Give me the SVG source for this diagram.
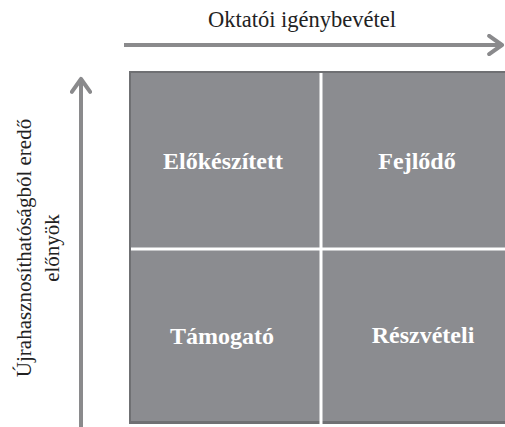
<svg xmlns="http://www.w3.org/2000/svg" width="505" height="427" viewBox="0 0 505 427">
<style>
.axis{font-family:"Liberation Serif","Times New Roman",serif;fill:#222;}
.q{font-family:"Liberation Serif","Times New Roman",serif;font-size:24px;font-weight:bold;fill:#fff;text-anchor:middle;}
.cell{fill:#8b8c90;}
.div{stroke:#fff;stroke-width:3;}
.arr{stroke:#8a8a8c;stroke-width:4;fill:none;}
</style>
<defs>
<marker id="ah" viewBox="0 0 12 12" refX="9" refY="6" markerWidth="5.5" markerHeight="5.5" orient="auto" markerUnits="strokeWidth">
<path d="M2,1 L9,6 L2,11" fill="none" stroke="#8a8a8c" stroke-width="2.2" stroke-linecap="round" stroke-linejoin="round"/>
</marker>
</defs>
<rect width="505" height="427" fill="#fff"/>
<g id="connectors">
<line class="arr" x1="124" y1="45" x2="502" y2="45" marker-end="url(#ah)"/>
<line class="arr" x1="81" y1="427" x2="81" y2="79" marker-end="url(#ah)"/>
</g>
<g id="grid">
<rect x="129" y="71" width="378" height="353" fill="#6f7073"/>
<rect x="131" y="73" width="376" height="348" class="cell"/>
<line class="div" x1="321" y1="73" x2="321" y2="424"/>
<line class="div" x1="131" y1="249" x2="505" y2="249"/>
</g>
<g id="xlabel"><text class="axis" x="302" y="27" text-anchor="middle" font-size="22.5">Oktatói igénybevétel</text></g>
<g id="ylabel"><text class="axis" font-size="21" transform="translate(41,248) rotate(-90)" text-anchor="middle"><tspan x="0" y="-10">Újrahasznosíthatóságból eredő</tspan><tspan x="0" y="18">előnyök</tspan></text></g>
<g id="elokeszitett"><text class="q" x="223" y="169">Előkészített</text></g>
<g id="fejlodo"><text class="q" x="417" y="169">Fejlődő</text></g>
<g id="tamogato"><text class="q" x="222" y="344">Támogató</text></g>
<g id="reszveteli"><text class="q" x="423" y="343">Részvételi</text></g>
</svg>
